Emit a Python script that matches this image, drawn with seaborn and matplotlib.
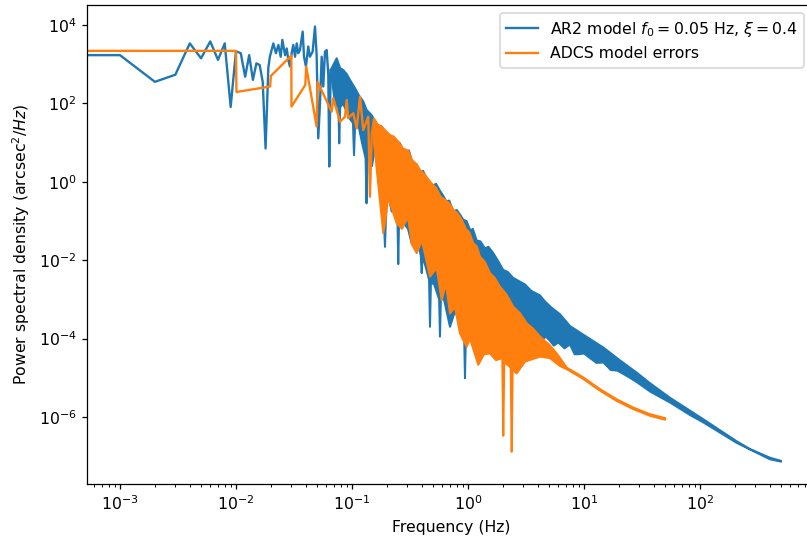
import numpy as np
import pandas as pd
import matplotlib
matplotlib.use("Agg")
import matplotlib.pyplot as plt
import seaborn as sns

# Values.
# Frequencies in Hz, PSD stored as log10(arcsec^2/Hz).
# The first point of each line stands in for the DC bin (left of the axis).

# AR2 model: low-frequency part, individual bins
ar2_freq = [0.0003, 0.001, 0.002, 0.003, 0.004, 0.005, 0.006, 0.007, 0.008, 0.009,
            0.010, 0.011, 0.012, 0.013, 0.014, 0.015, 0.016, 0.017, 0.018, 0.019,
            0.0196, 0.0210, 0.0221, 0.0232, 0.0243, 0.0251, 0.0265, 0.0274, 0.0283, 0.0292,
            0.0302, 0.0312, 0.0323, 0.0334, 0.0344, 0.0356, 0.0376, 0.0386, 0.0401, 0.0420,
            0.0434, 0.0458, 0.0480, 0.0496, 0.0512, 0.0530, 0.0548, 0.0566, 0.0585, 0.0605,
            0.0625, 0.0637, 0.0655]
ar2_log10 = [3.23, 3.23, 2.55, 2.73, 3.53, 3.15, 3.58, 3.11, 3.53, 1.91,
             3.33, 3.28, 2.68, 3.23, 2.60, 3.02, 2.98, 2.55, 0.85, 2.90,
             3.19, 3.53, 3.28, 3.49, 3.19, 3.62, 3.23, 3.40, 3.10, 2.94,
             3.28, 3.49, 3.19, 3.53, 3.28, 3.36, 3.83, 3.19, 2.94, 3.45,
             3.19, 3.32, 3.96, 3.23, 1.11, 2.00, 3.19, 2.43, 3.32, 3.36,
             2.74, 0.39, 2.85]

# AR2 model: dense part, upper / lower edge of the band
ar2_upper_freq = [0.0655, 0.0690, 0.0738, 0.0790, 0.0841, 0.0900, 0.0961, 0.1061, 0.1150, 0.1250,
                  0.1339, 0.1478, 0.1650, 0.1803, 0.2000, 0.2199, 0.2594, 0.2750, 0.2900, 0.3100,
                  0.3377, 0.3600, 0.3900, 0.4100, 0.4406, 0.4700, 0.5000, 0.5300, 0.5735, 0.6100,
                  0.6500, 0.6900, 0.7468, 0.8000, 0.8600, 0.9110, 0.9700, 1.050, 1.100, 1.189,
                  1.280, 1.400, 1.500, 1.652, 1.800, 2.015, 2.200, 2.450, 2.808, 3.100,
                  3.500, 4.176, 4.600, 5.200, 6.21, 7.57, 9.86, 14.7, 20.3, 28.5,
                  37.1, 55.1, 107.0, 207.0, 270.0, 401.0, 500.0]
ar2_upper_log10 = [2.85, 2.98, 3.15, 2.90, 2.85, 2.75, 2.60, 2.39, 2.20, 2.05,
                   1.83, 1.70, 1.45, 1.41, 1.20, 1.15, 0.98, 0.80, 0.75, 0.80,
                   0.39, 0.45, 0.20, 0.28, 0.07, -0.02, -0.10, -0.05, -0.23, -0.35,
                   -0.50, -0.48, -0.75, -0.72, -0.85, -0.97, -1.00, -1.25, -1.20, -1.50,
                   -1.52, -1.70, -1.66, -1.82, -2.00, -2.25, -2.30, -2.45, -2.55, -2.62,
                   -2.78, -2.90, -3.05, -3.20, -3.38, -3.68, -3.90, -4.23, -4.55, -4.87,
                   -5.14, -5.51, -6.06, -6.62, -6.82, -7.04, -7.12]
ar2_lower_freq = [0.0655, 0.0714, 0.0763, 0.0777, 0.0792, 0.0836, 0.0961, 0.1020, 0.1041, 0.1062,
                  0.1126, 0.1220, 0.1310, 0.1334, 0.1358, 0.1401, 0.1488, 0.1579, 0.1709, 0.1861,
                  0.1925, 0.1990, 0.2043, 0.2199, 0.2348, 0.2460, 0.2506, 0.2550, 0.2698, 0.3040,
                  0.3290, 0.3562, 0.3920, 0.3990, 0.4060, 0.4345, 0.4620, 0.4704, 0.4790, 0.5092,
                  0.5640, 0.5735, 0.5840, 0.6210, 0.6995, 0.7727, 0.8531, 0.9250, 0.9421, 0.9590,
                  1.040, 1.270, 1.550, 1.890, 2.300, 2.810, 3.210, 3.550, 3.910, 4.300,
                  4.700, 5.090, 5.500, 6.000, 6.800, 7.570, 8.300, 9.000, 10.00, 11.30,
                  12.80, 14.70, 17.00, 19.50, 23.30, 28.50, 37.10, 55.10, 82.0, 107.0,
                  207.0, 401.0, 500.0]
ar2_lower_log10 = [2.85, 2.00, 1.90, 0.98, 1.90, 2.00, 1.60, 1.50, 0.68, 1.40,
                   1.50, 1.00, 0.60, -0.55, 0.60, 0.80, 0.40, 0.90, 0.20, -0.60,
                   -1.66, -0.40, -0.30, -0.76, -0.60, -0.80, -2.10, -0.90, -1.00, -1.20,
                   -1.60, -1.20, -1.90, -2.33, -1.90, -2.20, -2.50, -3.70, -2.60, -2.60,
                   -3.00, -3.95, -3.00, -3.00, -3.70, -3.30, -3.60, -3.80, -5.01, -3.90,
                   -4.00, -4.20, -3.90, -3.80, -3.60, -3.70, -3.70, -3.85, -3.82, -4.05,
                   -3.95, -4.06, -4.18, -4.10, -4.25, -4.15, -4.40, -4.40, -4.38, -4.50,
                   -4.62, -4.61, -4.80, -4.82, -4.95, -5.11, -5.35, -5.63, -5.95, -6.14,
                   -6.66, -7.08, -7.14]

# ADCS model errors: low-frequency part
adcs_freq = [0.0003, 0.0100, 0.0101, 0.0197, 0.0200, 0.0300, 0.0301, 0.0396, 0.0403, 0.0496,
             0.0505, 0.0668, 0.0690, 0.0788, 0.0871, 0.0900, 0.0929, 0.1026, 0.1098, 0.1172,
             0.1252, 0.1382, 0.1429, 0.1480, 0.1547]
adcs_log10 = [3.34, 3.34, 2.29, 2.43, 2.70, 3.22, 1.92, 2.47, 2.94, 1.41,
              2.55, 1.79, 2.13, 1.53, 1.66, 2.09, 1.62, 1.75, 1.36, 2.17,
              1.32, 1.66, -0.38, 1.20, 1.60]

# ADCS model errors: dense part, upper / lower edge
adcs_upper_freq = [0.1547, 0.1680, 0.1803, 0.1950, 0.2127, 0.2300, 0.2506, 0.2750, 0.3057, 0.3300,
                   0.3600, 0.3857, 0.4200, 0.4864, 0.5300, 0.5800, 0.6336, 0.6900, 0.7468, 0.8100,
                   0.8825, 0.9600, 1.030, 1.111, 1.190, 1.269, 1.400, 1.547, 1.700, 1.888,
                   2.150, 2.458, 2.800, 3.206, 3.650, 4.176, 5.000, 5.817, 7.094, 9.86,
                   13.74, 19.14, 26.6, 37.07, 50.0]
adcs_upper_log10 = [1.60, 1.45, 1.41, 1.30, 1.19, 1.15, 1.02, 0.85, 0.79, 0.55,
                    0.45, 0.30, 0.20, -0.05, -0.15, -0.38, -0.46, -0.55, -0.72, -0.80,
                    -0.97, -1.20, -1.30, -1.57, -1.65, -1.91, -2.05, -2.33, -2.45, -2.68,
                    -2.88, -3.19, -3.35, -3.61, -3.75, -3.95, -4.15, -4.38, -4.74, -4.99,
                    -5.29, -5.55, -5.76, -5.93, -6.03]
adcs_lower_freq = [0.1547, 0.165, 0.1861, 0.196, 0.205, 0.2428, 0.2698, 0.3040, 0.3290, 0.3612,
                   0.4013, 0.4704, 0.5372, 0.5933, 0.6460, 0.6995, 0.7727, 0.8531, 0.9745, 1.040,
                   1.227, 1.374, 1.547, 1.743, 1.975, 2.015, 2.055, 2.256, 2.334, 2.381,
                   2.428, 2.630, 3.099, 4.176, 5.09, 6.21, 7.094, 9.86, 13.74, 19.14,
                   26.6, 37.07, 50.0]
adcs_lower_log10 = [1.00, 0.20, -1.31, -0.90, -0.40, -1.06, -1.20, -0.90, -1.60, -1.82,
                    -1.50, -2.42, -2.20, -3.02, -2.60, -3.36, -3.20, -3.87, -4.21, -4.00,
                    -4.67, -4.40, -4.38, -4.55, -4.50, -6.48, -4.60, -4.70, -4.75, -6.89,
                    -4.80, -4.89, -4.59, -4.46, -4.50, -4.70, -4.78, -5.03, -5.33, -5.59,
                    -5.80, -5.97, -6.07]

x_ticks = [1e-3, 1e-2, 1e-1, 1e0, 1e1, 1e2]
y_ticks = [1e-6, 1e-4, 1e-2, 1e0, 1e2, 1e4]

BLUE = "#1f77b4"
ORANGE = "#ff7f0e"


def draw_band(ax, uf, uv, lf, lv, color):
    # the dense part of a long spectrum looks like a solid band; draw its outline filled
    xs = np.concatenate([np.asarray(uf), np.asarray(lf)[::-1]])
    ys = 10 ** np.concatenate([np.asarray(uv), np.asarray(lv)[::-1]])
    ax.fill(xs, ys, facecolor=color, edgecolor=color, lw=1.3, joinstyle="round")


# the original was saved at a slightly higher dpi than 100
DPI = 113
fig = plt.figure(figsize=(807 / DPI, 543 / DPI), dpi=DPI)
ax = fig.add_axes([0.1084, 0.1094, 0.9006, 0.8807])
ax.set_xscale("log")
ax.set_yscale("log")

ar2 = pd.DataFrame({"f": ar2_freq, "psd": 10 ** np.array(ar2_log10)})
adcs = pd.DataFrame({"f": adcs_freq, "psd": 10 ** np.array(adcs_log10)})

sns.lineplot(data=ar2, x="f", y="psd", ax=ax, color=BLUE, lw=1.5, sort=False,
             estimator=None, label=r"AR2 model $f_0 = 0.05$ Hz, $\xi = 0.4$")
draw_band(ax, ar2_upper_freq, ar2_upper_log10, ar2_lower_freq, ar2_lower_log10, BLUE)

sns.lineplot(data=adcs, x="f", y="psd", ax=ax, color=ORANGE, lw=1.5, sort=False,
             estimator=None, label="ADCS model errors")
draw_band(ax, adcs_upper_freq, adcs_upper_log10, adcs_lower_freq, adcs_lower_log10, ORANGE)

ax.set_xlim(10 ** -3.28, 10 ** 2.985)
ax.set_ylim(10 ** -7.7, 10 ** 4.5)
ax.set_xticks(x_ticks)
ax.set_yticks(y_ticks)
ax.set_xlabel("Frequency (Hz)")
ax.set_ylabel(r"Power spectral density (arcsec$^2$/$Hz$)")
ax.legend(loc="upper right", bbox_to_anchor=(0.997, 1.0))

fig.savefig("out.png", dpi=DPI)
